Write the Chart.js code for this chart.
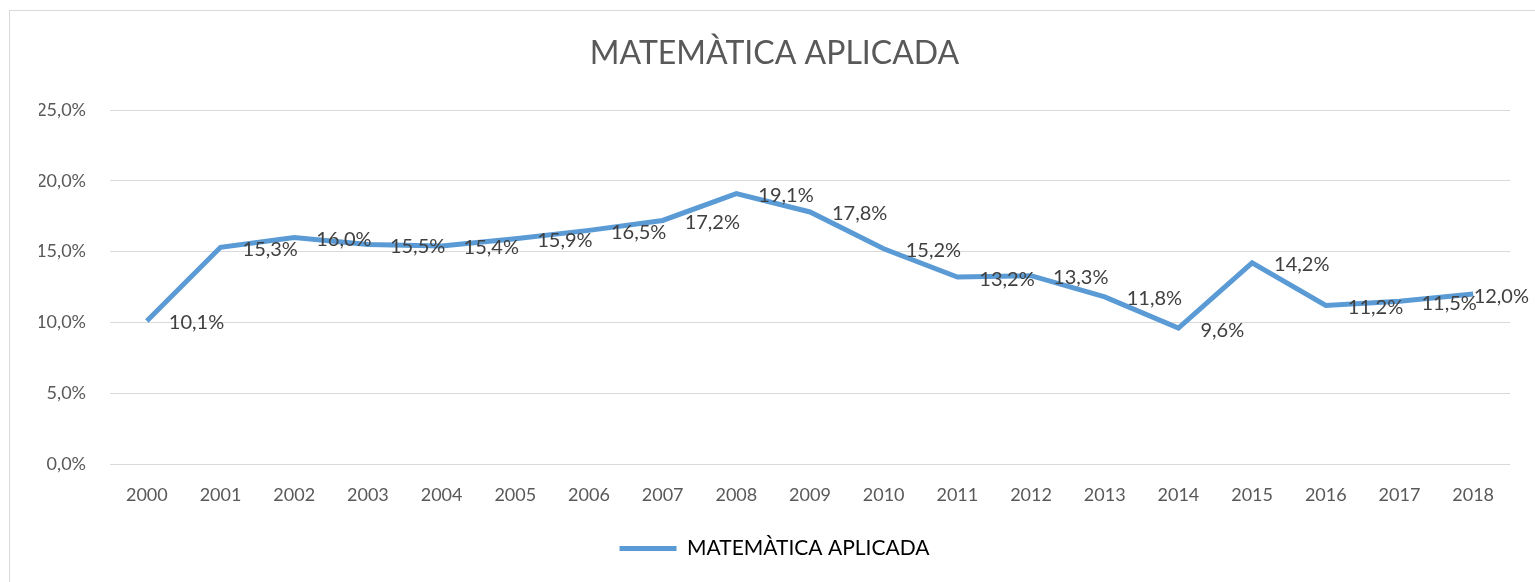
<!DOCTYPE html>
<html>
<head>
<meta charset="utf-8">
<script src="https://cdn.jsdelivr.net/npm/chart.js@4"></script>
<style>
    body { margin: 0; background: #fff; }
    #wrap { position: relative; width: 1535px; height: 582px; }
    #frame { position: absolute; left: 9px; top: 10px; width: 1540px; height: 600px; border: 1px solid #d9d9d9; pointer-events: none; }
</style>
</head>
<body>
<div id="wrap">
    <canvas id="chart" width="1535" height="582"></canvas>
    <div id="frame"></div>
</div>
<script>
// Chart data
const years = ['2000', '2001', '2002', '2003', '2004', '2005', '2006', '2007', '2008', '2009',
    '2010', '2011', '2012', '2013', '2014', '2015', '2016', '2017', '2018'];
const matematicaAplicada = [10.1, 15.3, 16.0, 15.5, 15.4, 15.9, 16.5, 17.2, 19.1, 17.8,
    15.2, 13.2, 13.3, 11.8, 9.6, 14.2, 11.2, 11.5, 12.0];
const seriesName = 'MATEMÀTICA APLICADA';

const FONT = 'Lato, "Open Sans", sans-serif';

function pct(v) {
    return v.toFixed(1).replace('.', ',') + '%';
}

// Draw value labels to the right of each point, kept inside the frame
const valueLabels = {
    id: 'valueLabels',
    afterDatasetsDraw(chart) {
        const ctx = chart.ctx;
        const meta = chart.getDatasetMeta(0);
        ctx.save();
        ctx.font = '20px ' + FONT;
        ctx.fillStyle = '#404040';
        ctx.textAlign = 'left';
        ctx.textBaseline = 'middle';
        meta.data.forEach((pt, i) => {
            const txt = pct(matematicaAplicada[i]);
            const w = ctx.measureText(txt).width;
            let x = pt.x + 22;
            if (x + w > 1529) x = 1529 - w;
            ctx.fillText(txt, x, pt.y + 2);
        });
        ctx.restore();
    }
};

new Chart(document.getElementById('chart'), {
    type: 'line',
    data: {
        labels: years,
        datasets: [{
            label: seriesName,
            data: matematicaAplicada,
            borderColor: '#5b9bd5',
            backgroundColor: '#5b9bd5',
            borderWidth: 5,
            pointRadius: 0,
            tension: 0
        }]
    },
    options: {
        responsive: false,
        animation: false,
        layout: { padding: { left: 39, right: 25, top: 10, bottom: 13 } },
        plugins: {
            title: {
                display: true,
                text: seriesName,
                color: '#595959',
                font: { family: FONT, size: 32, weight: 'normal' },
                padding: { top: 24, bottom: 37.6 }
            },
            legend: {
                position: 'bottom',
                labels: {
                    color: '#595959',
                    font: { family: FONT, size: 21 },
                    boxWidth: 57,
                    boxHeight: 5,
                    padding: 10,
                    generateLabels(chart) {
                        return [{
                            text: seriesName,
                            fillStyle: '#5b9bd5',
                            strokeStyle: '#5b9bd5',
                            lineWidth: 0,
                            datasetIndex: 0
                        }];
                    }
                }
            },
            tooltip: { enabled: false }
        },
        scales: {
            x: {
                offset: true,
                grid: { display: false, drawTicks: false },
                border: { display: false },
                ticks: { color: '#595959', font: { family: FONT, size: 18 }, padding: 20, maxRotation: 0 },
                afterFit(scale) { scale.height = 64; }
            },
            y: {
                min: 0,
                max: 25,
                ticks: {
                    stepSize: 5,
                    color: '#595959',
                    font: { family: FONT, size: 18 },
                    padding: 24,
                    callback: v => pct(v)
                },
                grid: { color: '#d9d9d9', lineWidth: 1, drawTicks: false },
                border: { display: false },
                afterFit(scale) { scale.width = 71; }
            }
        }
    },
    plugins: [valueLabels]
});
</script>
</body>
</html>
